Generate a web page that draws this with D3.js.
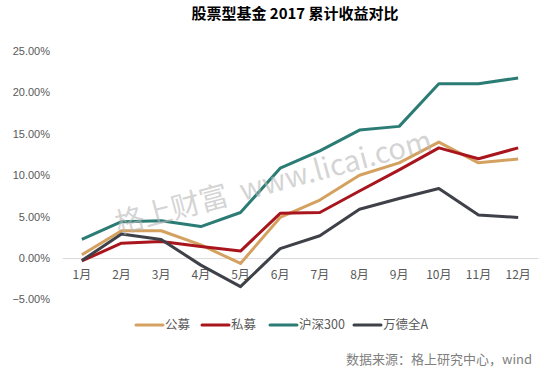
<!DOCTYPE html>
<html>
<head>
<meta charset="utf-8">
<script src="https://cdn.jsdelivr.net/npm/d3@7"></script>
<style>
  body { margin: 0; background: #fff; }
  svg { display: block; font-family: "Liberation Sans", "Noto Sans CJK SC", sans-serif; }
</style>
</head>
<body>
<svg></svg>
<script>
'use strict';
// months on the x axis
var months = ['1月','2月','3月','4月','5月','6月','7月','8月','9月','10月','11月','12月'];
var yTicks = [-5, 0, 5, 10, 15, 20, 25];

// cumulative return, percent
var gongmu  = [0.4, 3.3, 3.3, 1.6, -0.65, 4.9, 7.0, 10.0, 11.5, 14.0, 11.5, 11.95];
var simu    = [-0.35, 1.8, 2.0, 1.4, 0.85, 5.4, 5.5, 8.1, 10.65, 13.3, 12.0, 13.3];
var hs300   = [2.25, 4.4, 4.5, 3.8, 5.5, 10.85, 12.95, 15.45, 15.9, 21.05, 21.05, 21.75];
var wandeA  = [-0.3, 2.9, 2.25, -0.85, -3.45, 1.15, 2.7, 5.9, 7.2, 8.4, 5.2, 4.9];

var seriesNames = ['公募', '私募', '沪深300', '万德全A'];
var seriesColors = ['#D4A160', '#A9151C', '#2B7C74', '#3F4148'];
var seriesValues = [gongmu, simu, hs300, wandeA];

var canvasWidth = 548, canvasHeight = 372;
var margin = {top: 51, right: 10, bottom: 72, left: 62};

var svg = d3.select('svg')
  .attr('width', canvasWidth)
  .attr('height', canvasHeight);

var xScale = d3.scaleBand()
  .domain(months)
  .range([margin.left, 538]);

var yScale = d3.scaleLinear()
  .domain([-5, 25])
  .range([299.5, 51]);

//title
svg.append('text')
  .attr('x', 295)
  .attr('y', 19)
  .attr('text-anchor', 'middle')
  .style('font-family', '"Noto Sans CJK SC", sans-serif')
  .style('font-weight', 'bold')
  .style('font-size', '15px')
  .style('fill', '#000')
  .text('股票型基金 2017 累计收益对比');

// y labels (no axis line)
svg.append('g')
  .selectAll('text')
  .data(yTicks)
  .enter()
  .append('text')
  .attr('x', 50)
  .attr('y', function(d) { return yScale(d); })
  .attr('dy', '0.35em')
  .attr('text-anchor', 'end')
  .style('font-size', '11px')
  .style('fill', '#595959')
  .text(function(d) { return d3.format('.2f')(d) + '%'; });

// zero line with month labels
var xAxis = svg.append('g')
  .attr('transform', 'translate(0,' + yScale(0) + ')')
  .call(d3.axisBottom(xScale).tickSize(0).tickPadding(12));
xAxis.select('.domain').attr('stroke', '#d9d9d9').attr('stroke-width', 1);
xAxis.selectAll('text')
  .style('font-family', '"Noto Sans CJK SC", sans-serif')
  .style('font-size', '12px')
  .style('fill', '#595959');

// lines
var line = d3.line()
  .x(function(d, i) { return xScale(months[i]) + xScale.bandwidth() / 2; })
  .y(function(d) { return yScale(d); });

svg.append('g')
  .selectAll('path')
  .data(seriesValues)
  .enter()
  .append('path')
  .attr('d', line)
  .attr('fill', 'none')
  .attr('stroke', function(d, i) { return seriesColors[i]; })
  .attr('stroke-width', 3)
  .attr('stroke-linejoin', 'round');

// watermark
svg.append('text')
  .attr('transform', 'translate(276,192) rotate(-15)')
  .attr('text-anchor', 'middle')
  .style('font-family', '"Noto Sans CJK SC", sans-serif')
  .style('font-size', '29px')
  .style('fill', '#b8b8b8')
  .style('fill-opacity', 0.6)
  .style('white-space', 'pre')
  .text('格上财富  www.licai.com');

// legend
var legendX = [136, 202, 270, 354];
var legend = svg.append('g')
  .selectAll('g')
  .data(seriesNames)
  .enter()
  .append('g')
  .attr('transform', function(d, i) { return 'translate(' + legendX[i] + ',325)'; });
legend.append('line')
  .attr('x1', 0).attr('x2', 27)
  .attr('stroke', function(d, i) { return seriesColors[i]; })
  .attr('stroke-width', 3)
  .attr('stroke-linecap', 'round');
legend.append('text')
  .attr('x', 29)
  .attr('dy', '0.35em')
  .style('font-family', '"Noto Sans CJK SC", sans-serif')
  .style('font-size', '12.5px')
  .style('fill', '#595959')
  .text(function(d) { return d; });

// source
svg.append('text')
  .attr('x', 532)
  .attr('y', 359)
  .attr('dy', '0.35em')
  .attr('text-anchor', 'end')
  .style('font-family', '"Noto Sans CJK SC", sans-serif')
  .style('font-size', '13px')
  .style('fill', '#7f7f7f')
  .text('数据来源：格上研究中心，wind');
</script>
</body>
</html>
